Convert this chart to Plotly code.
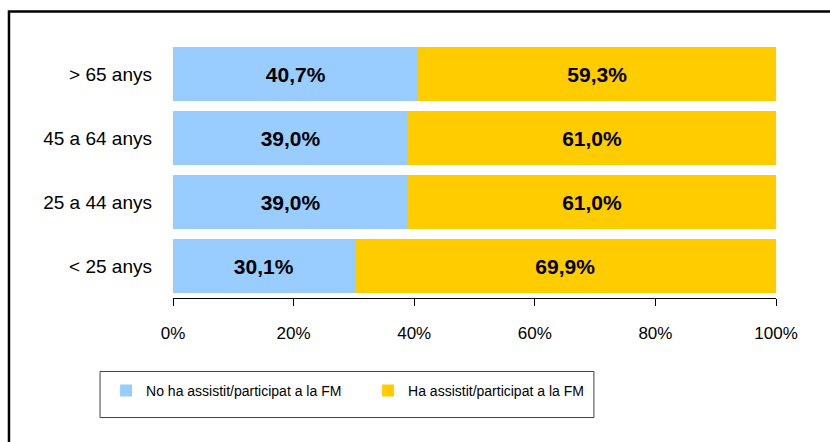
import plotly.graph_objects as go

# age groups, bottom to top as drawn
groups = ["< 25 anys", "25 a 44 anys", "45 a 64 anys", "> 65 anys"]
series_names = ["No ha assistit/participat a la FM", "Ha assistit/participat a la FM"]
no_attended = [30.1, 39.0, 39.0, 40.7]
attended = [69.9, 61.0, 61.0, 59.3]
x_ticks = [0, 20, 40, 60, 80, 100]
x_tick_labels = ["0%", "20%", "40%", "60%", "80%", "100%"]

colors = ["#99CCFF", "#FFCC00"]
FONT = "Liberation Sans, Arial, sans-serif"

fig = go.Figure()
for name, vals, col in zip(series_names, [no_attended, attended], colors):
    fig.add_trace(go.Bar(
        y=groups,
        x=vals,
        name=name,
        orientation="h",
        marker=dict(color=col, line=dict(width=0)),
        texttemplate="%{x:.1f}%",
        textposition="inside",
        insidetextanchor="middle",
        textfont=dict(family=FONT, size=21, color="black", weight="bold"),
    ))

fig.update_layout(
    width=830,
    height=442,
    barmode="stack",
    bargap=0.17,
    separators=",.",
    plot_bgcolor="white",
    paper_bgcolor="white",
    font=dict(family=FONT, size=17, color="black"),
    margin=dict(l=173, r=54, t=42, b=144),
    showlegend=True,
    legend=dict(
        orientation="h",
        x=-0.111, xanchor="left",
        y=-0.30, yanchor="top",
        entrywidth=217, entrywidthmode="pixels",
        font=dict(family=FONT, size=14, color="black"),
        bgcolor="rgba(0,0,0,0)",
        traceorder="normal",
    ),
    uniformtext=dict(mode="show", minsize=10),
)

fig.update_xaxes(
    range=[0, 100],
    tickvals=x_ticks,
    ticktext=x_tick_labels,
    showgrid=False,
    zeroline=False,
    showline=True,
    linecolor="black",
    linewidth=1,
    ticks="outside",
    ticklen=7,
    tickcolor="black",
    ticklabelstandoff=13,
    tickfont=dict(size=17),
)
fig.update_yaxes(
    categoryorder="array",
    categoryarray=groups,
    showgrid=False,
    showline=False,
    ticks="",
    ticklabelstandoff=20,
    tickfont=dict(size=19),
)

# legend frame and outer chart frame
fig.add_shape(type="rect", xref="paper", yref="paper",
              x0=-0.121, x1=0.698, y0=-0.467, y1=-0.287,
              line=dict(color="#404040", width=1), fillcolor="rgba(0,0,0,0)")
fig.add_shape(type="rect", xref="paper", yref="paper",
              x0=-0.272, x1=1.12, y0=-0.62, y1=1.119,
              line=dict(color="black", width=2.5), fillcolor="rgba(0,0,0,0)")

# drop the default page margin so the 830x442 figure fills the window
fig.write_html("out.html",
               config={"displayModeBar": False},
               post_script="document.body.style.margin='0';document.body.style.overflow='hidden';")
